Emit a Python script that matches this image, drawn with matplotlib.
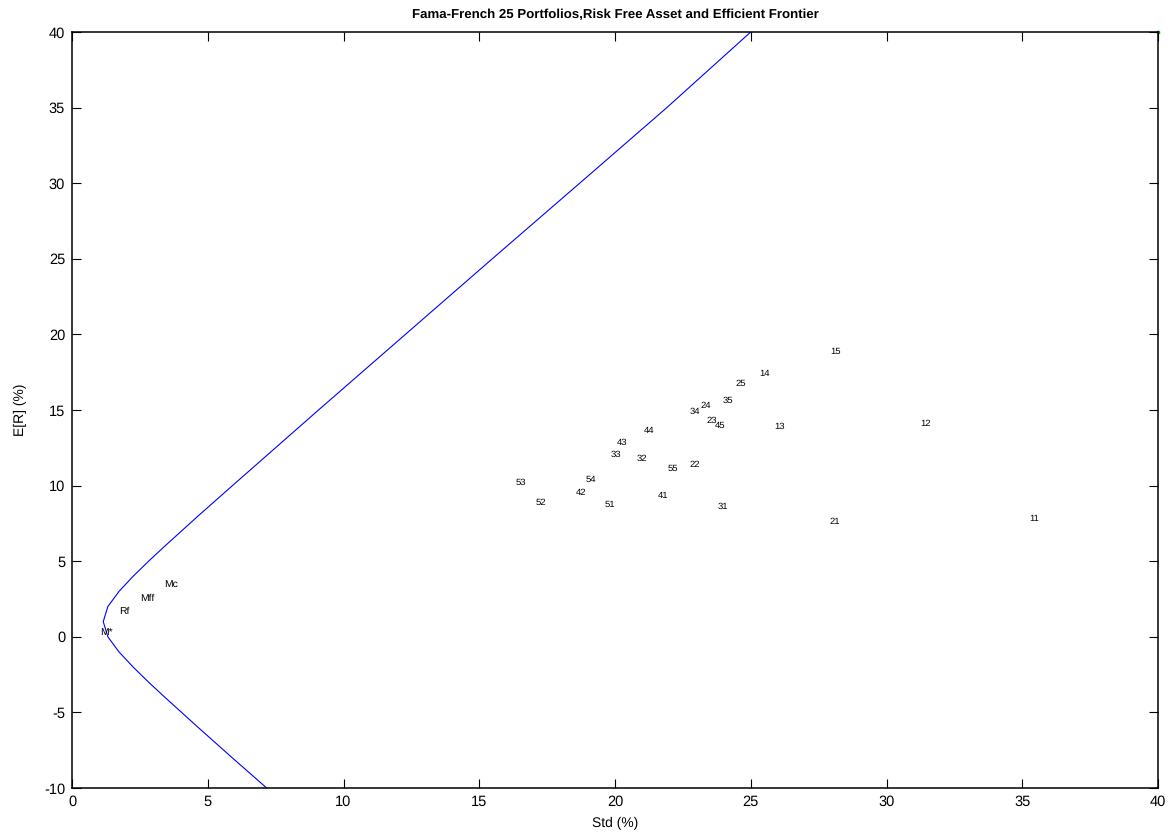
## Fama-French 25 portfolios, risk free asset and efficient frontier
import numpy as np
import matplotlib.pyplot as plt

plt.rcParams['font.family'] = ['Liberation Sans', 'DejaVu Sans']
plt.rcParams['axes.unicode_minus'] = False
plt.rcParams['text.hinting'] = 'no_hinting'

# portfolio labels and (std, mean) positions
port_names = ['11', '12', '13', '14', '15',
              '21', '22', '23', '24', '25',
              '31', '32', '33', '34', '35',
              '41', '42', '43', '44', '45',
              '51', '52', '53', '54', '55']
port_std = [35.26, 31.24, 25.86, 25.31, 27.94,
            27.91, 22.73, 23.38, 23.16, 24.43,
            23.79, 20.79, 19.83, 22.76, 23.95,
            21.59, 18.56, 20.06, 21.06, 23.66,
            19.63, 17.06, 16.35, 18.90, 21.92]
port_mean = [7.79, 14.07, 13.90, 17.40, 18.84,
             7.61, 11.38, 14.32, 15.26, 16.77,
             8.60, 11.81, 12.04, 14.89, 15.62,
             9.33, 9.53, 12.84, 13.63, 13.96,
             8.76, 8.87, 10.17, 10.37, 11.12]

# special portfolios
spec_names = ['Mc', 'Mff', 'Rf', 'M*']
spec_std = [3.38, 2.50, 1.74, 1.03]
spec_mean = [3.45, 2.52, 1.66, 0.32]

# efficient frontier (std, mean)
front_mean = [-10, -8, -6, -4, -3, -2, -1, 0, 1, 2, 3, 4, 5, 6, 8, 10,
              15, 20, 25, 30, 35, 40]
front_std = [7.17, 5.90, 4.65, 3.42, 2.82, 2.25, 1.73, 1.32, 1.15, 1.32,
             1.73, 2.25, 2.82, 3.42, 4.65, 5.91, 9.08, 12.28, 15.48,
             18.70, 21.91, 25.00]

fig = plt.figure(figsize=(11.71, 8.35), dpi=100)
ax = fig.add_axes([0.0615, 0.0563, 0.9274, 0.9054])

ax.plot(front_std, front_mean, color='#0000ff', lw=0.8)
ax.plot([40], [40], 's', color='#00a000', ms=2, clip_on=False)

for name, s, m in zip(port_names, port_std, port_mean):
    ax.text(s, m, name, fontsize=6.8, ha='left', va='center')
for name, s, m in zip(spec_names, spec_std, spec_mean):
    ax.text(s, m, name, fontsize=7.5, ha='left', va='center')

ax.set_xlim(0, 40)
ax.set_ylim(-10, 40)
ax.set_xticks(np.arange(0, 45, 5))
ax.set_yticks(np.arange(-10, 45, 5))
ax.tick_params(direction='in', length=6.5, width=0.8, labelsize=10.5,
               top=True, right=True)
ax.tick_params(axis='x', pad=5)
ax.tick_params(axis='y', pad=5)
for sp in ax.spines.values():
    sp.set_linewidth(1.1)

ax.set_title('Fama-French 25 Portfolios,Risk Free Asset and Efficient Frontier',
             fontsize=9.5, fontweight='bold', pad=10)
ax.set_xlabel('Std (%)', fontsize=10, labelpad=6)
ax.set_ylabel('E[R] (%)', fontsize=10, labelpad=12)

plt.savefig('out.png', dpi=100)
